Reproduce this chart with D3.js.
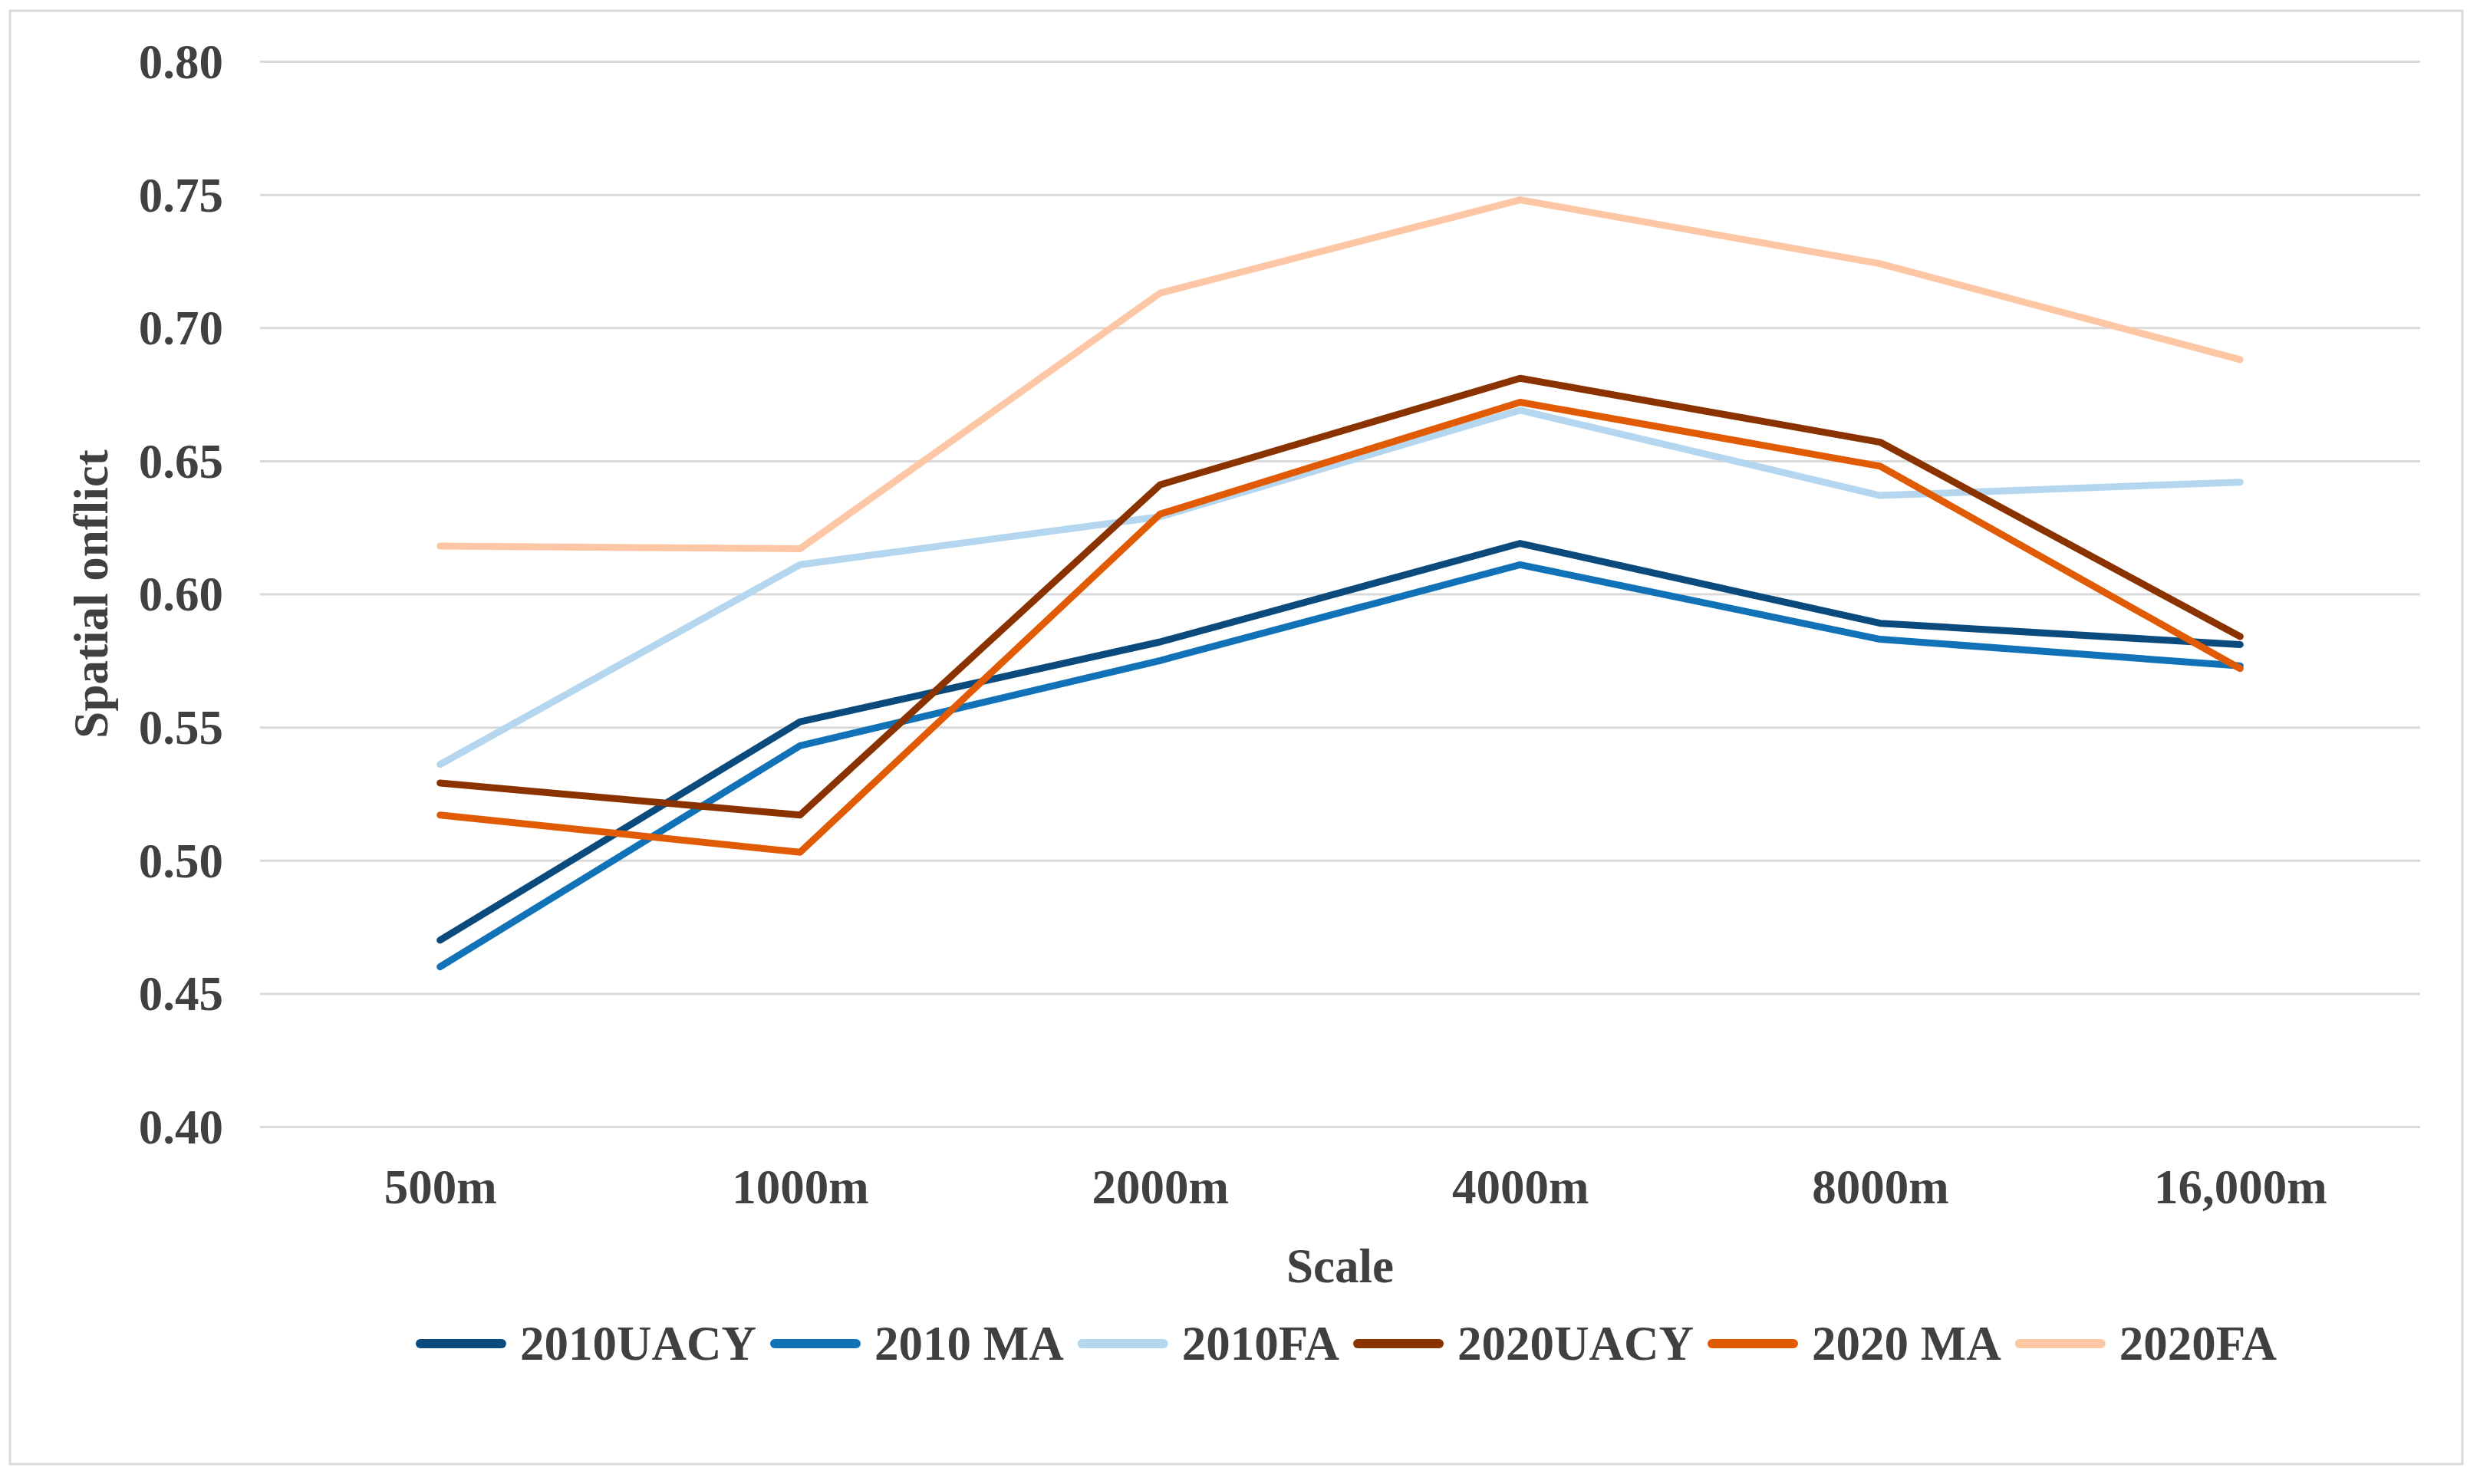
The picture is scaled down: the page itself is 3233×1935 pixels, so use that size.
<!DOCTYPE html>
<html>
<head>
<meta charset="utf-8">
<script src="https://cdn.jsdelivr.net/npm/d3@7"></script>
<style>
  body { margin: 0; background: #fff; }
  text { font-family: "Liberation Serif", "Times New Roman", serif; font-weight: bold; fill: #404040; }
</style>
</head>
<body>
<svg id="chart"></svg>
<script>
var categories = ['500m', '1000m', '2000m', '4000m', '8000m', '16,000m'];
var seriesNames = ['2010UACY', '2010 MA', '2010FA', '2020UACY', '2020 MA', '2020FA'];
var uacy2010 = [0.470, 0.552, 0.582, 0.619, 0.589, 0.581];
var ma2010 = [0.460, 0.543, 0.575, 0.611, 0.583, 0.573];
var fa2010 = [0.536, 0.611, 0.629, 0.669, 0.637, 0.642];
var uacy2020 = [0.529, 0.517, 0.641, 0.681, 0.657, 0.584];
var ma2020 = [0.517, 0.503, 0.630, 0.672, 0.648, 0.572];
var fa2020 = [0.618, 0.617, 0.713, 0.748, 0.724, 0.688];
var yTicks = [0.40, 0.45, 0.50, 0.55, 0.60, 0.65, 0.70, 0.75, 0.80];
var colors = ['#0b4a7c', '#1272b8', '#b4d6ef', '#8a3300', '#e15b05', '#fdc7a5'];

var allValues = [uacy2010, ma2010, fa2010, uacy2020, ma2020, fa2020];

var W = 3233, H = 1935;
var pLeft = 339, pRight = 3155, pTop = 80, pBottom = 1469;
var fs = 63;

var svg = d3.select('#chart').attr('width', W).attr('height', H);

// outer frame
svg.append('rect')
  .attr('x', 13).attr('y', 14)
  .attr('width', 3197).attr('height', 1895)
  .attr('fill', 'white').attr('stroke', '#d9d9d9').attr('stroke-width', 3);

var x = d3.scalePoint().domain(categories).range([pLeft, pRight]).padding(0.5);
var y = d3.scaleLinear().domain([0.40, 0.80]).range([pBottom, pTop]);

// y grid + labels
var yAxis = d3.axisLeft(y).tickValues(yTicks).tickSize(-(pRight - pLeft)).tickPadding(48)
  .tickFormat(d3.format('.2f'));
var gy = svg.append('g').attr('transform', 'translate(' + pLeft + ',0)').call(yAxis);
gy.select('.domain').remove();
gy.selectAll('.tick line').attr('stroke', '#d9d9d9').attr('stroke-width', 3);
gy.selectAll('.tick text').attr('font-size', fs).attr('dy', '0.34em').attr('fill', '#404040')
  .attr('font-family', '"Liberation Serif", "Times New Roman", serif');

// x labels
var xAxis = d3.axisBottom(x).tickSize(0).tickPadding(0);
var gx = svg.append('g').attr('transform', 'translate(0,' + pBottom + ')').call(xAxis);
gx.select('.domain').remove();
gx.selectAll('.tick text').attr('font-size', fs).attr('dy', null).attr('y', 100).attr('fill', '#404040')
  .attr('font-family', '"Liberation Serif", "Times New Roman", serif');

// axis titles
svg.append('text')
  .attr('x', (pLeft + pRight) / 2).attr('y', 1672)
  .attr('text-anchor', 'middle').attr('font-size', fs)
  .text('Scale');
svg.append('text')
  .attr('transform', 'translate(140,' + ((pTop + pBottom) / 2) + ') rotate(-90)')
  .attr('text-anchor', 'middle').attr('font-size', fs)
  .text('Spatial onflict');

// lines
var line = d3.line()
  .x(function (d, i) { return x(categories[i]); })
  .y(function (d) { return y(d); });

svg.append('g').selectAll('path').data(allValues).enter().append('path')
  .attr('d', line)
  .attr('fill', 'none')
  .attr('stroke', function (d, i) { return colors[i]; })
  .attr('stroke-width', 9)
  .attr('stroke-linejoin', 'round')
  .attr('stroke-linecap', 'round');

// legend
var legend = svg.append('g');
var items = legend.selectAll('g').data(seriesNames).enter().append('g');
items.append('line')
  .attr('x1', 6).attr('x2', 112).attr('y1', 0).attr('y2', 0)
  .attr('stroke', function (d, i) { return colors[i]; })
  .attr('stroke-width', 12)
  .attr('stroke-linecap', 'round');
items.append('text')
  .attr('x', 136).attr('y', 21)
  .attr('font-size', fs)
  .text(function (d) { return d; });

var pos = 0;
items.each(function () {
  var w = d3.select(this).select('text').node().getComputedTextLength();
  d3.select(this).attr('transform', 'translate(' + pos + ',0)');
  pos += 136 + w + 18;
});
pos -= 18;
legend.attr('transform', 'translate(' + (1755 - pos / 2) + ',1752)');
</script>
</body>
</html>
